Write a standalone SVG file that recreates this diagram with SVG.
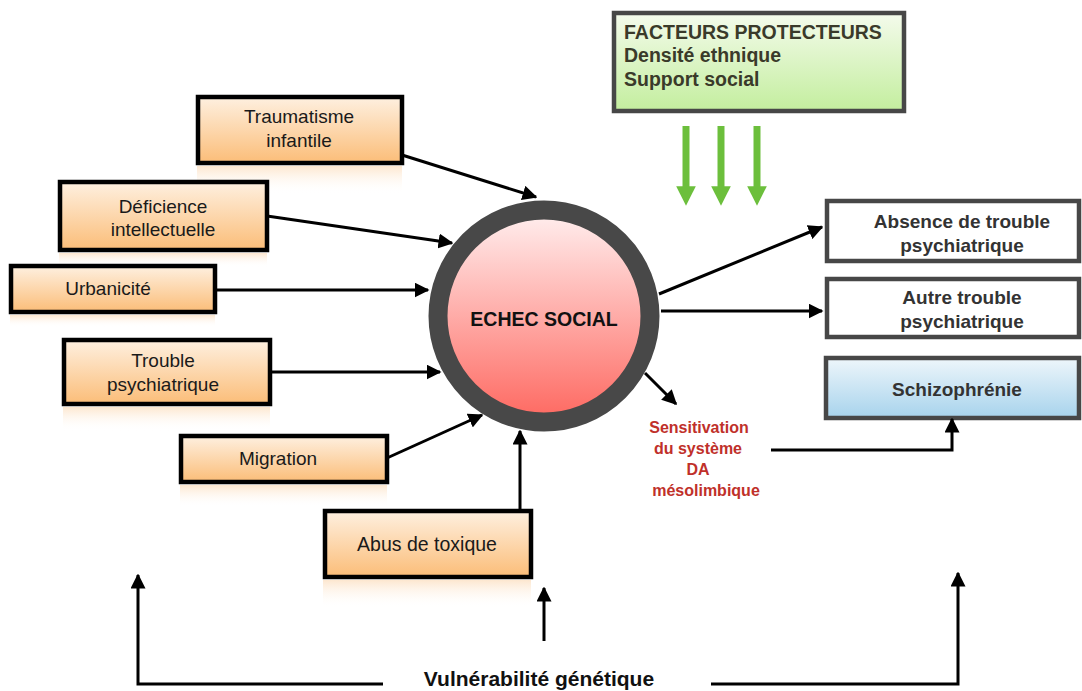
<svg xmlns="http://www.w3.org/2000/svg" width="1082" height="691" viewBox="0 0 1082 691">
<defs>
<linearGradient id="gOr" x1="0" y1="0" x2="0" y2="1"><stop offset="0" stop-color="#fef0e0"/><stop offset="1" stop-color="#fbbd78"/></linearGradient>
<linearGradient id="gRef" x1="0" y1="0" x2="0" y2="1"><stop offset="0" stop-color="#fbd3a8" stop-opacity="0.55"/><stop offset="1" stop-color="#ffffff" stop-opacity="0"/></linearGradient>
<linearGradient id="gGr" x1="0" y1="0" x2="0" y2="1"><stop offset="0" stop-color="#f4fbec"/><stop offset="1" stop-color="#c3ee9e"/></linearGradient>
<linearGradient id="gBl" x1="0" y1="0" x2="0" y2="1"><stop offset="0" stop-color="#eef6fb"/><stop offset="1" stop-color="#a7d3ec"/></linearGradient>
<linearGradient id="gRed" x1="0" y1="0" x2="0" y2="1"><stop offset="0" stop-color="#fff0f0"/><stop offset="1" stop-color="#fe675f"/></linearGradient>
<marker id="ah" viewBox="0 0 10 10" refX="9" refY="5" markerWidth="5" markerHeight="5" orient="auto" markerUnits="strokeWidth"><path d="M0,0 L10,5 L0,10 z" fill="#000"/></marker>
<marker id="ahg" viewBox="0 0 10 10" refX="5" refY="5" markerWidth="2.8" markerHeight="2.8" orient="auto" markerUnits="strokeWidth"><path d="M0,0 L10,5 L0,10 z" fill="#6cbf3c"/></marker>
</defs>
<style>
.ob{fill:url(#gOr);stroke:#000;stroke-width:4.5}
.ref{fill:url(#gRef)}
.t{font-family:"Liberation Sans",Arial,sans-serif;font-size:19px;fill:#1a1a1a;text-anchor:middle}
.tb{font-family:"Liberation Sans",Arial,sans-serif;font-size:19px;font-weight:bold;fill:#333;text-anchor:middle}
.wb{fill:#fff;stroke:#474747;stroke-width:4.5}
.c{fill:none;stroke:#000;stroke-width:3;marker-end:url(#ah)}
.g{stroke:#6cbf3c;stroke-width:7;marker-end:url(#ahg)}
.red{font-family:"Liberation Sans",Arial,sans-serif;font-size:16px;font-weight:bold;fill:#c0302a;text-anchor:middle}
</style>

<g id="n-traumatisme">
<rect class="ref" x="197" y="166" width="205" height="28"/>
<rect class="ob" x="198" y="97" width="204" height="66"/>
<text class="t" x="299" y="123">Traumatisme</text>
<text class="t" x="299" y="147">infantile</text>
</g>
<g id="n-deficience">
<rect class="ref" x="59" y="253" width="208" height="14"/>
<rect class="ob" x="60" y="182" width="207" height="68"/>
<text class="t" x="163" y="213">Déficience</text>
<text class="t" x="163" y="236">intellectuelle</text>
</g>
<g id="n-urbanicite">
<rect class="ref" x="10" y="315" width="205" height="12"/>
<rect class="ob" x="11" y="266" width="204" height="46"/>
<text class="t" x="108" y="295">Urbanicité</text>
</g>
<g id="n-trouble">
<rect class="ref" x="63" y="407" width="207" height="24"/>
<rect class="ob" x="64" y="340" width="206" height="64"/>
<text class="t" x="163" y="367">Trouble</text>
<text class="t" x="163" y="391">psychiatrique</text>
</g>
<g id="n-migration">
<rect class="ref" x="180" y="485" width="207" height="22"/>
<rect class="ob" x="181" y="436" width="206" height="46"/>
<text class="t" x="278" y="465">Migration</text>
</g>
<g id="n-abus">
<rect class="ref" x="323" y="580" width="208" height="28"/>
<rect class="ob" x="325" y="511" width="206" height="66"/>
<text class="t" x="427" y="551" style="font-size:19.5px">Abus de toxique</text>
</g>

<g id="n-echec">
<circle cx="544" cy="316" r="106" fill="url(#gRed)" stroke="#484848" stroke-width="19"/>
<text class="tb" x="544" y="326" style="font-size:19.5px;fill:#111">ECHEC SOCIAL</text>
</g>

<g id="n-facteurs">
<rect x="614" y="13" width="290" height="98" fill="url(#gGr)" stroke="#474747" stroke-width="4.5"/>
<text class="tb" x="624" y="39" style="text-anchor:start;font-size:19.5px;fill:#3a3a2a">FACTEURS PROTECTEURS</text>
<text class="tb" x="624" y="62" style="text-anchor:start;font-size:19.5px;fill:#3a3a2a">Densité ethnique</text>
<text class="tb" x="624" y="86" style="text-anchor:start;font-size:19.5px;fill:#3a3a2a">Support social</text>
</g>

<g id="n-absence">
<rect class="wb" x="827" y="201" width="252" height="60"/>
<text class="tb" x="962" y="228">Absence de trouble</text>
<text class="tb" x="962" y="252">psychiatrique</text>
</g>
<g id="n-autre">
<rect class="wb" x="827" y="279" width="252" height="58"/>
<text class="tb" x="962" y="304">Autre trouble</text>
<text class="tb" x="962" y="328">psychiatrique</text>
</g>
<g id="n-schizo">
<rect x="826" y="358" width="253" height="60" fill="url(#gBl)" stroke="#474747" stroke-width="4.5"/>
<text class="tb" x="957" y="396">Schizophrénie</text>
</g>

<g id="n-sensitivation">
<text class="red" x="699" y="433">Sensitivation</text>
<text class="red" x="698" y="454">du système</text>
<text class="red" x="698" y="475">DA</text>
<text class="red" x="706" y="496">mésolimbique</text>
</g>

<g id="n-vulnerabilite">
<text class="tb" x="539" y="686" style="font-size:21px;fill:#111">Vulnérabilité génétique</text>
</g>

<g id="connectors">
<line class="c" x1="402" y1="155" x2="536" y2="197"/>
<line class="c" x1="267" y1="216" x2="452" y2="243"/>
<line class="c" x1="215" y1="290" x2="428" y2="290"/>
<line class="c" x1="270" y1="372" x2="440" y2="372"/>
<line class="c" x1="387" y1="458" x2="482" y2="415"/>
<line class="c" x1="520" y1="509" x2="520" y2="431"/>
<line class="c" x1="659" y1="294" x2="822" y2="227"/>
<line class="c" x1="661" y1="311" x2="822" y2="311"/>
<line class="c" x1="645" y1="373" x2="676" y2="404"/>
<polyline class="c" points="771,450 952,450 952,419"/>
<polyline class="c" points="383,684 138,684 138,575"/>
<polyline class="c" points="711,684 958,684 958,573"/>
<line class="c" x1="544" y1="641" x2="544" y2="588"/>
<line class="g" x1="686" y1="126" x2="686" y2="196"/>
<line class="g" x1="721" y1="126" x2="721" y2="196"/>
<line class="g" x1="757" y1="126" x2="757" y2="196"/>
</g>
</svg>
